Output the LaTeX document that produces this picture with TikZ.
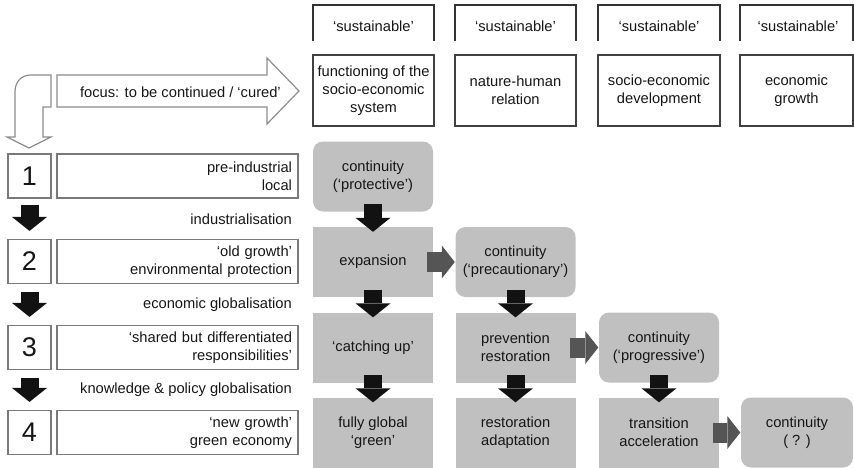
\documentclass[tikz,border=0pt]{standalone}
\usepackage{fontspec}
\setmainfont{Liberation Sans}
\usetikzlibrary{arrows.meta}
\definecolor{boxgray}{HTML}{C0C0C0}
\definecolor{darkarr}{HTML}{555555}
\definecolor{framegray}{HTML}{7A7A7A}
\definecolor{outlinegray}{HTML}{8C8C8C}
\definecolor{txt}{HTML}{161616}
\begin{document}
\begin{tikzpicture}[x=1pt,y=-1pt,
  every node/.style={font=\fontsize{14.7}{17.7}\selectfont, text=txt, inner sep=0pt, align=center},
  hdrbox/.style={draw=black!75, line width=1.2pt, fill=white, minimum height=71pt},
  grybox/.style={fill=boxgray, minimum height=70pt, minimum width=120pt},
  contbox/.style={grybox, rounded corners=10pt},
  numbox/.style={draw=framegray, line width=1.2pt, minimum width=43pt, minimum height=44pt, font=\fontsize{27}{30}\selectfont},
  txtbox/.style={draw=framegray, line width=1.2pt, minimum height=44pt, text width=229pt, align=right, inner xsep=6pt},
  downarr/.style={draw=black!93, line width=18pt, -{Triangle[length=14pt,width=35pt,line width=0pt]}},
  rightarr/.style={draw=darkarr, line width=20pt, -{Triangle[length=13pt,width=33pt,line width=0pt]}},
  bracket/.style={draw=black!80, line width=1.2pt},
  outline/.style={draw=outlinegray, line width=1.2pt, fill=white},
]
\useasboundingbox (0,0) rectangle (854,467);

% 'sustainable' brackets
\draw[bracket] (313,41) -- (313,5) -- (434,5) -- (434,41);
\draw[bracket] (455,41) -- (455,5) -- (576,5) -- (576,41);
\draw[bracket] (598,41) -- (598,5) -- (720,5) -- (720,41);
\draw[bracket] (740,41) -- (740,5) -- (853,5) -- (853,41);
\node (s1) at (373.5,26) {‘sustainable’};
\node (s2) at (515.5,26) {‘sustainable’};
\node (s3) at (659,26) {‘sustainable’};
\node (s4) at (798,26) {‘sustainable’};

% header boxes
\node[hdrbox, minimum width=121pt] (h1) at (373.5,90.5) {functioning of the\\socio-economic\\system};
\node[hdrbox, minimum width=121pt] (h2) at (515.5,90.5) {nature-human\\relation};
\node[hdrbox, minimum width=122pt] (h3) at (659,90.5) {socio-economic\\development};
\node[hdrbox, minimum width=113pt] (h4) at (796.5,90.5) {economic\\growth};

% focus arrow
\draw[outline] (57,75) -- (267,75) -- (267,58) -- (299,91) -- (267,124) -- (267,107) -- (57,107) -- cycle;
\node[anchor=east] (focus) at (281,92) {focus: to be continued / ‘cured’};

% bent arrow
\draw[outline] (51,75) -- (31,75) .. controls (21,75) and (15,82) .. (15,92) -- (15,137) -- (7,137) -- (29,148) -- (51,137) -- (43,137) -- (43,107) -- (51,107) -- cycle;

% left column
\node[numbox] (n1) at (29.5,176) {1};
\node[numbox] (n2) at (29.5,261.5) {2};
\node[numbox] (n3) at (29.5,347.5) {3};
\node[numbox] (n4) at (29.5,432.5) {4};
\node[txtbox] (b1) at (177.5,176) {pre-industrial\\local};
\node[txtbox] (b2) at (177.5,261.5) {‘old growth’\\environmental protection};
\node[txtbox] (b3) at (177.5,347.5) {‘shared but differentiated\\responsibilities’};
\node[txtbox] (b4) at (177.5,432.5) {‘new growth’\\green economy};
\node[anchor=east] (t1) at (292,219) {industrialisation};
\node[anchor=east] (t2) at (292,305) {economic globalisation};
\node[anchor=east] (t3) at (292,390) {knowledge \& policy globalisation};
\draw[downarr, shorten <=6pt, shorten >=8pt] (n1.south) -- (n2.north);
\draw[downarr, shorten <=8pt, shorten >=8pt] (n2.south) -- (n3.north);
\draw[downarr, shorten <=8pt, shorten >=8pt] (n3.south) -- (n4.north);

% gray boxes
\node[contbox] (c11) at (373,176.5) {continuity\\(‘protective’)};
\node[grybox] (c12) at (373,262) {expansion};
\node[grybox] (c13) at (373,347.5) {‘catching up’};
\node[grybox] (c14) at (373,432.5) {fully global\\‘green’};
\node[contbox] (c22) at (515.5,262) {continuity\\(‘precautionary’)};
\node[grybox] (c23) at (515.5,347.5) {prevention\\restoration};
\node[grybox] (c24) at (515.5,432.5) {restoration\\adaptation};
\node[contbox] (c33) at (659,347.5) {continuity\\(‘progressive’)};
\node[grybox] (c34) at (659,432.5) {transition\\acceleration};
\node[contbox, minimum width=112pt] (c44) at (797,432.5) {continuity\\( ? )};

% down arrows
\draw[downarr, shorten <=-7.5pt, shorten >=-5pt] (c11.south) -- (c12.north);
\draw[downarr, shorten <=-7.5pt, shorten >=-5pt] (c12.south) -- (c13.north);
\draw[downarr, shorten <=-7.5pt, shorten >=-5pt] (c13.south) -- (c14.north);
\draw[downarr, shorten <=-7.5pt, shorten >=-5pt] (c22.south) -- (c23.north);
\draw[downarr, shorten <=-7.5pt, shorten >=-5pt] (c23.south) -- (c24.north);
\draw[downarr, shorten <=-7.5pt, shorten >=-5pt] (c33.south) -- (c34.north);

% right arrows
\draw[rightarr, shorten <=-6pt, shorten >=0.5pt] (c12.east) -- (c22.west);
\draw[rightarr, shorten <=-6pt, shorten >=0.5pt] (c23.east) -- (c33.west);
\draw[rightarr, shorten <=-6pt, shorten >=0.5pt] (c34.east) -- (c44.west);
\end{tikzpicture}
\end{document}
